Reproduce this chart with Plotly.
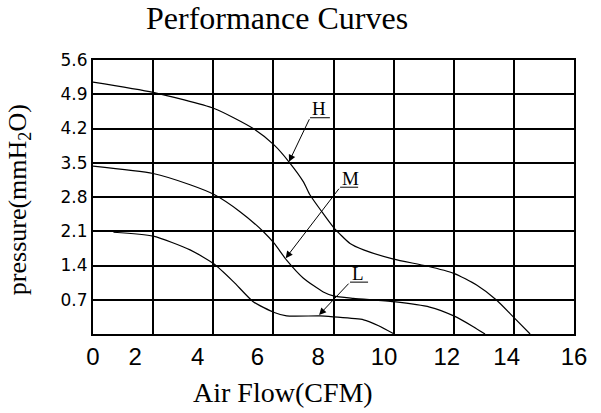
import plotly.graph_objects as go

# performance data (CFM vs mmH2O)
h_flow = [0, 2.0, 4.03, 5.33, 6.03, 6.53, 7.0, 7.22, 7.61, 8.0, 8.55, 9.0, 10.0, 11.1, 12.0, 12.76, 13.43, 13.98, 14.54]
h_pres = [5.15, 4.94, 4.61, 4.20, 3.86, 3.51, 3.11, 2.84, 2.50, 2.18, 1.85, 1.72, 1.53, 1.39, 1.24, 1.00, 0.69, 0.35, 0.0]

m_flow = [0, 2.0, 3.23, 4.03, 4.89, 5.67, 6.03, 6.44, 7.0, 7.66, 8.0, 8.66, 10.0, 11.2, 12.0, 12.65, 13.04]
m_pres = [3.43, 3.28, 3.05, 2.85, 2.50, 2.09, 1.85, 1.51, 1.14, 0.86, 0.78, 0.73, 0.66, 0.55, 0.37, 0.15, 0.0]

l_flow = [0.68, 2.0, 3.23, 4.03, 4.67, 5.33, 6.03, 6.44, 7.55, 8.0, 9.0, 9.5, 10.02]
l_pres = [2.08, 2.0, 1.72, 1.43, 1.07, 0.66, 0.44, 0.37, 0.37, 0.35, 0.29, 0.17, 0.0]

x_ticktext = ['0', '2', '4', '6', '8', '10', '12', '14', '16']
y_ticktext = ['0.7', '1.4', '2.1', '2.8', '3.5', '4.2', '4.9', '5.6']

# the printed x labels sit a bit off the grid lines in the original
x_label_shift = [0, -0.6, -0.52, -0.53, -0.51, -0.32, -0.23, -0.24, 0]
x_tickvals = [2 * i + s for i, s in enumerate(x_label_shift)]
y_tickvals = [0.7 * (i + 1) for i in range(len(y_ticktext))]

serif = 'Liberation Serif, Times New Roman, serif'

fig = go.Figure()
for fx, fy in [(h_flow, h_pres), (m_flow, m_pres), (l_flow, l_pres)]:
    fig.add_trace(go.Scatter(x=fx, y=fy, mode='lines', line=dict(color='black', width=1.2, shape='spline', smoothing=0.6),
                             hoverinfo='skip', showlegend=False))

# curve labels: H, M, L with underline + arrow leader
labels = [
    # text, text x, text y, tail x, tail y, tip x, tip y, underline end x
    ('H', 7.52, 4.61, 7.22, 4.42, 6.52, 3.52, 7.88),
    ('M', 8.55, 3.17, 8.22, 3.00, 6.41, 1.55, 8.82),
    ('L', 8.80, 1.24, 8.55, 1.06, 7.52, 0.39, 9.15),
]
for txt, tx, ty, ax_, ay_, px_, py_, ux in labels:
    fig.add_annotation(x=tx, y=ty, text=txt, showarrow=False, font=dict(family=serif, size=19, color='black'))
    fig.add_shape(type='line', x0=ax_, x1=ux, y0=ay_, y1=ay_, line=dict(color='black', width=1))
    fig.add_annotation(x=px_, y=py_, ax=ax_, ay=ay_, axref='x', ayref='y', text='', showarrow=True,
                       arrowhead=2, arrowsize=1.4, arrowwidth=1, arrowcolor='black')

fig.update_xaxes(range=[0, 16], tickvals=x_tickvals, ticktext=x_ticktext, ticks='', showgrid=False,
                 showline=True, mirror=True, linecolor='black', linewidth=2, zeroline=False,
                 tickfont=dict(family='Liberation Sans Narrow, Liberation Sans, sans-serif', size=24, color='black'),
                 minor=dict(dtick=2, tick0=0, showgrid=True, gridcolor='black', gridwidth=1.5, ticks=''))
fig.update_yaxes(range=[0, 5.6], tickvals=y_tickvals, ticktext=y_ticktext, ticks='', showgrid=True,
                 gridcolor='black', gridwidth=1.5, showline=True, mirror=True, linecolor='black', linewidth=2,
                 zeroline=False, tickfont=dict(family='DejaVu Sans, sans-serif', size=17, color='black'))

fig.add_annotation(x=0.3825, y=1.155, xref='paper', yref='paper', text='Performance Curves', showarrow=False,
                   xanchor='center', yanchor='middle', font=dict(family=serif, size=32, color='black'))
fig.add_annotation(x=0.395, y=-0.215, xref='paper', yref='paper', text='Air Flow(CFM)', showarrow=False,
                   xanchor='center', yanchor='middle', font=dict(family=serif, size=28, color='black'))
fig.add_annotation(x=-0.155, y=0.49, xref='paper', yref='paper', text='pressure(mmH<sub>2</sub>O)', showarrow=False,
                   xanchor='center', yanchor='middle', textangle=-90, font=dict(family=serif, size=26, color='black'))

fig.update_layout(width=601, height=413, margin=dict(l=93, r=27, t=60, b=79),
                  plot_bgcolor='white', paper_bgcolor='white')

# drop the default 8px body margin so the figure fills the window
fig.write_html("out.html", config={'displayModeBar': False},
               post_script="document.body.style.margin='0';")
